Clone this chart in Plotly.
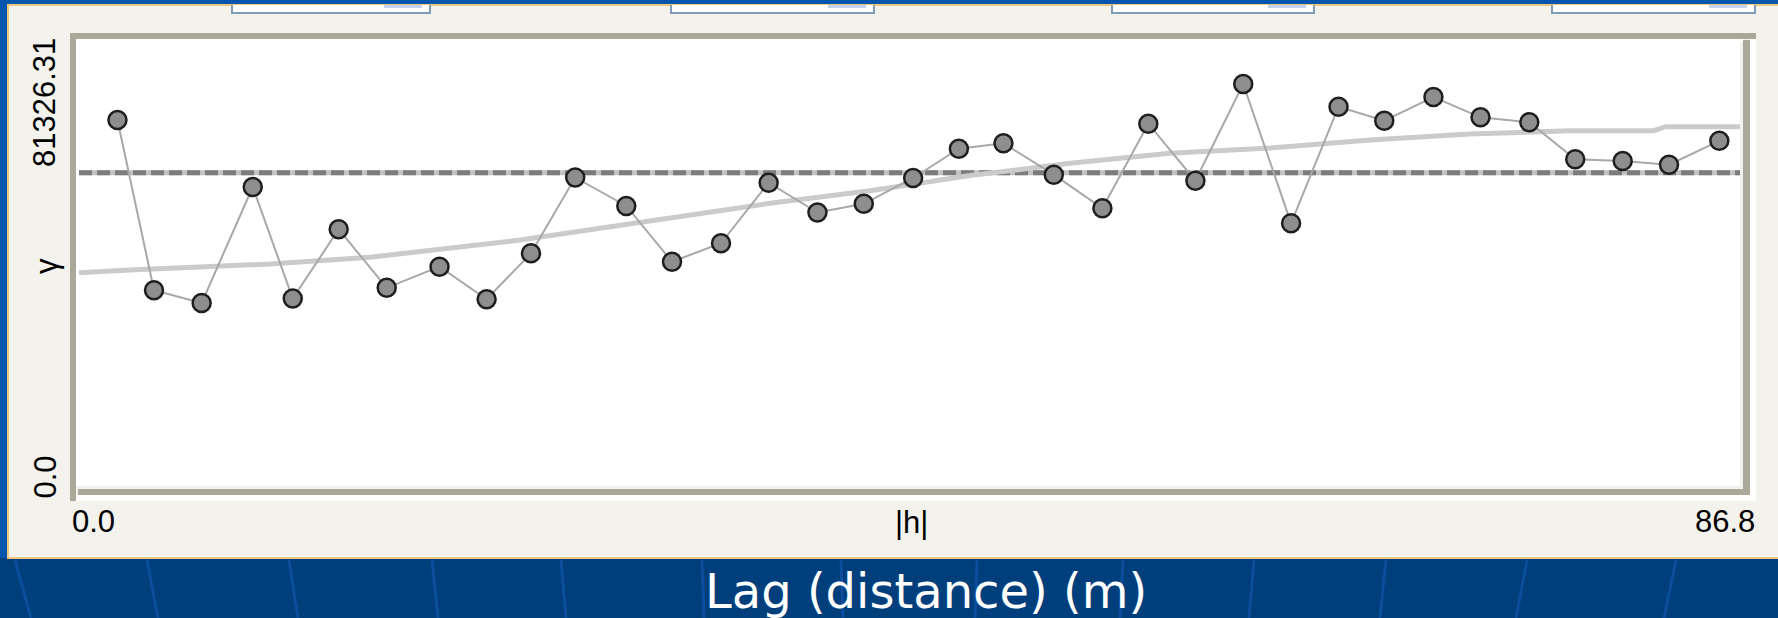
import plotly.graph_objects as go

# ---- data -------------------------------------------------------------
lag_m = [2.01, 3.92, 6.41, 9.08, 11.17, 13.57, 16.08, 18.84, 21.30, 23.62,
         25.93, 28.60, 30.99, 33.55, 36.04, 38.59, 41.01, 43.59, 45.98, 48.31,
         50.94, 53.48, 55.88, 58.34, 60.84, 63.34, 65.82, 68.21, 70.78, 73.24,
         75.79, 78.19, 80.67, 83.09, 85.72]
semivariance = [67040, 35850, 33520, 54770, 34340, 47020, 36300, 40170, 34200, 42620,
                56510, 51290, 41080, 44460, 55550, 50100, 51690, 56420, 61780, 62770,
                57020, 50870, 66360, 55920, 73630, 48120, 69480, 66910, 71250, 67530,
                66620, 59860, 59530, 58850, 63230]
model_lag = [0.0, 2.67, 9.98, 15.21, 23.05, 30.88, 36.11, 41.34, 46.56, 51.79,
             57.01, 62.24, 67.47, 72.69, 77.92, 82.3, 82.9, 86.8]
model_gamma = [39070, 39560, 40660, 41890, 45060, 49000, 51780, 54090, 56870, 59110,
               60940, 61910, 63380, 64480, 65080, 65080, 65810, 65810]
sill = 57390
x_max = 86.8
y_max = 81326.31
x_tick_text = ["0.0", "86.8"]
y_tick_text = ["0.0", "81326.31"]
x_label = "|h|"
y_label = "γ"
title_text = "Lag (distance) (m)"

# ---- page geometry (pixels) ------------------------------------------
W, H = 1778, 618
PL, PR, PT, PB = 79, 1740, 42, 486   # data area


def px(x):
    return (x - PL) / (PR - PL)


def py(y):
    return (PB - y) / (PB - PT)


def rect(x0, y0, x1, y1, fill, line=None, lw=0):
    return dict(type="rect", xref="paper", yref="paper", layer="below",
                x0=px(x0), x1=px(x1), y0=py(y1), y1=py(y0),
                fillcolor=fill, line=dict(color=line or fill, width=lw))


def seg(x0, y0, x1, y1, color, lw):
    return dict(type="line", xref="paper", yref="paper", layer="below",
                x0=px(x0), x1=px(x1), y0=py(y0), y1=py(y1),
                line=dict(color=color, width=lw))


shapes = []
# slide background: brighter blue behind the window, dark blue below it
shapes.append(rect(0, 0, W, 558, "#0656AE"))
# decorative fan lines on the slide background
for xt, xb in [(15, 31), (147, 158), (289, 298), (432, 438), (561, 566),
               (702, 704), (841, 843), (977, 975), (1123, 1120), (1254, 1249),
               (1386, 1380), (1527, 1516), (1676, 1664)]:
    shapes.append(seg(xt, 560, xb, H, "#0A4E9C", 3))
# window panel
shapes.append(rect(8, 5, W + 5, 558, "#F3F2ED", "#EEC77C", 2))
# text boxes peeking at the top edge
for bx0, bx1 in [(232, 430), (671, 874), (1112, 1314), (1552, 1755)]:
    shapes.append(rect(bx0, 5, bx1, 13, "#FFFFFF"))
    shapes.append(rect(bx1 - 46, 5, bx1 - 8, 8, "#C3D3EE"))
    shapes.append(dict(type="path", xref="paper", yref="paper", layer="below",
                       path=f"M {px(bx0)},{py(5)} L {px(bx0)},{py(13)} "
                            f"L {px(bx1)},{py(13)} L {px(bx1)},{py(5)}",
                       line=dict(color="#7F9DB9", width=2)))
# sunken frame around the plot
shapes.append(rect(70, 33, 1756, 39, "#ACA899"))
shapes.append(rect(70, 33, 76, 501, "#ACA899"))
shapes.append(rect(1750, 39, 1756, 501, "#FFFFFF"))
shapes.append(rect(76, 495, 1756, 501, "#FFFFFF"))
shapes.append(rect(1743, 40, 1750, 495, "#ACA899"))
shapes.append(rect(78, 489, 1750, 495, "#ACA899"))
shapes.append(rect(76, 39, 1743, 489, "#FFFFFF"))
shapes.append(rect(76, 486, 1743, 489, "#F1F1EF"))
shapes.append(rect(1740, 42, 1743, 489, "#F1F1EF"))

fig = go.Figure()

# sill (sample variance): light base with dark dashes over it
fig.add_trace(go.Scatter(x=[0, x_max], y=[sill, sill], mode="lines",
                         line=dict(color="#C2C2C2", width=5), hoverinfo="skip"))
fig.add_trace(go.Scatter(x=[0, x_max], y=[sill, sill], mode="lines",
                         line=dict(color="#7C7C7C", width=5, dash="13px,5px"),
                         hoverinfo="skip"))
# fitted model
fig.add_trace(go.Scatter(x=model_lag, y=model_gamma, mode="lines",
                         line=dict(color="#CBCBCB", width=5), hoverinfo="skip"))
# experimental semivariogram
fig.add_trace(go.Scatter(x=lag_m, y=semivariance, mode="lines+markers",
                         line=dict(color="#A8A8A8", width=2),
                         marker=dict(size=18, color="#8E8E8E",
                                     line=dict(color="#1E1E1E", width=2.5))))

label_font = dict(family="Liberation Sans, Arial, sans-serif",
                  size=31, color="#000000")


def label(text, x, y, angle=0, font=label_font):
    return dict(text=text, x=px(x), y=py(y), xref="paper", yref="paper",
                xanchor="center", yanchor="middle", showarrow=False,
                textangle=angle, font=font)


annotations = [
    label(y_tick_text[1], 44.5, 102.5, -90),
    label(y_tick_text[0], 44.5, 477, -90),
    label(y_label, 46, 266, -90),
    label(x_tick_text[0], 93, 521),
    label(x_tick_text[1], 1724.5, 521),
    label(x_label, 911, 522),
    label(title_text, 926, 591, 0,
          dict(family="DejaVu Sans, Verdana, sans-serif", size=48, color="#FFFFFF")),
]

fig.update_layout(
    width=W, height=H,
    margin=dict(l=PL, r=W - PR, t=PT, b=H - PB, pad=0),
    paper_bgcolor="#013E7C",
    plot_bgcolor="rgba(0,0,0,0)",
    showlegend=False,
    xaxis=dict(range=[0, x_max], visible=False, fixedrange=True),
    yaxis=dict(range=[0, y_max], visible=False, fixedrange=True),
    shapes=shapes,
    annotations=annotations,
)

fig.write_html("out.html", config={"displayModeBar": False})
